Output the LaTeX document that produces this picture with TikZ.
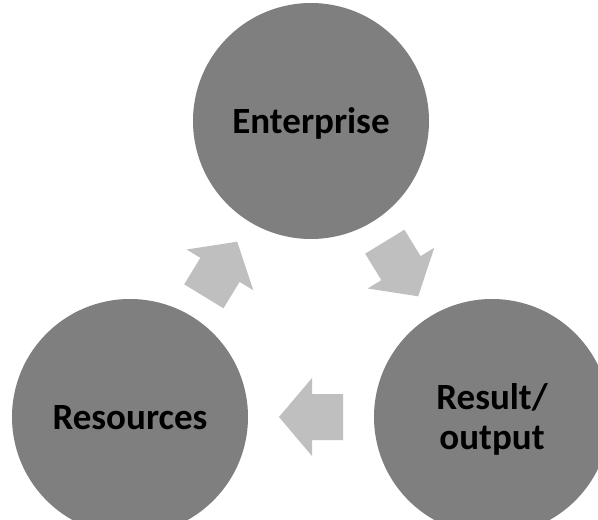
\documentclass[tikz,border=0pt]{standalone}
\usepackage{fontspec}
\setmainfont{Carlito}
\usetikzlibrary{calc}
\definecolor{circgray}{HTML}{7F7F7F}
\definecolor{arrowgray}{HTML}{BFBFBF}
\tikzset{
  bigcirc/.style={circle, fill=circgray, minimum size=236pt, inner sep=0pt,
    font=\fontsize{37}{40}\selectfont\bfseries, text=black, align=center, text depth=0pt},
  pics/blockarr/.style={code={
    \fill[arrowgray] (-32,-23) -- (-1,-23) -- (-1,-39) -- (32,0) -- (-1,39) -- (-1,23) -- (-32,23) -- cycle;}}
}
\begin{document}
\begin{tikzpicture}[x=1pt,y=-1pt]
\useasboundingbox (0,0) rectangle (598,520);
\clip (0,0) rectangle (598,520);
\fill[white] (0,0) rectangle (598,520);
\node[bigcirc] (ent) at (311,121) {Enterprise};
\node[bigcirc] (res) at (130,417) {Resources};
\node[bigcirc] (out) at (492,417) {Result/\\output};
\pic[rotate=58.55] at ($(res)!0.5!(ent)$) {blockarr};
\pic[rotate=-58.55] at ($(ent)!0.5!(out)$) {blockarr};
\pic[rotate=180] at ($(out)!0.5!(res)$) {blockarr};
\end{tikzpicture}
\end{document}
